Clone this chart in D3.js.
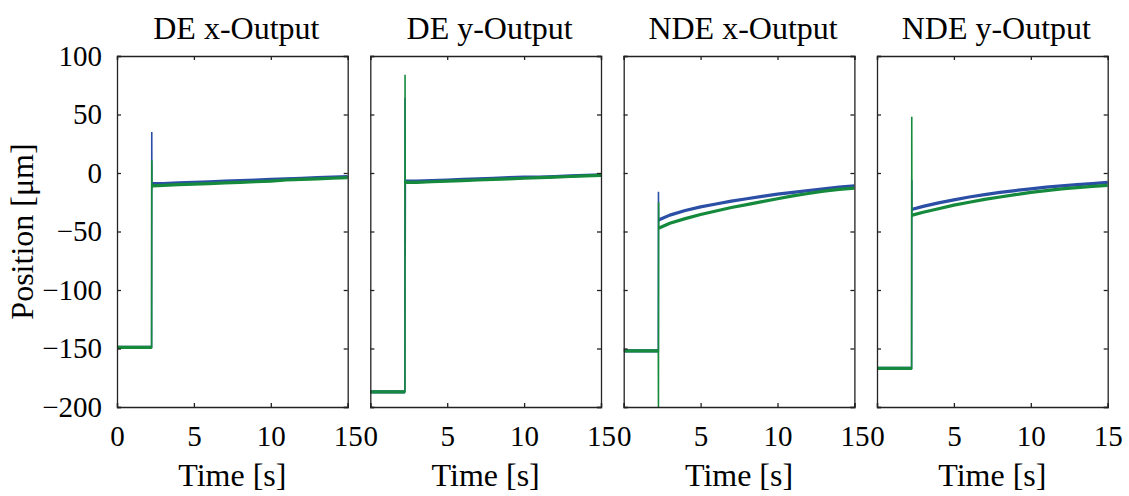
<!DOCTYPE html>
<html>
<head>
<meta charset="utf-8">
<script src="https://cdn.jsdelivr.net/npm/d3@7"></script>
<style>
  html, body { margin: 0; padding: 0; background: #fff; }
  svg { display: block; }
</style>
</head>
<body>
<svg id="chart" width="1129" height="496"></svg>
<script>
// ---------------- data ----------------
const panelTitles = ["DE x-Output", "DE y-Output", "NDE x-Output", "NDE y-Output"];
const xTicks = [0, 5, 10, 15];
const yTicks = [-200, -150, -100, -50, 0, 50, 100];
const times = [0, 2.25, 2.26, 2.27, 2.28, 2.3, 3, 4, 5, 6, 7, 8, 9, 10, 11, 12, 13, 14, 15];

const deXBlue  = [-149, -149, 35, -12, -9, -9, -9, -8.5, -8, -7.5, -7, -6.5, -6, -5.5, -5, -4.5, -4, -3.5, -3];
const deXGreen = [-149, -149, 11, -14, -11, -11, -10.5, -10, -9.5, -9, -8.5, -8, -7.5, -7, -6, -5.5, -5, -4.5, -4];
const deYBlue  = [-187, -187, 64, -72, -8, -7, -7, -6.5, -6, -5.5, -5, -4.5, -4, -3.5, -3.5, -3, -2.5, -2, -1.5];
const deYGreen = [-187, -187, 84, -10, -9, -8, -8, -7.5, -7, -6.5, -6, -5.5, -5, -4.5, -4, -3.5, -3, -2.5, -2];
const ndeXBlue  = [-152, -152, -16, -42, -40, -40, -36, -32, -29, -26.5, -24, -22, -20, -18, -16.5, -15, -13.5, -12, -11];
const ndeXGreen = [-152, -152, -200, -25, -47, -47, -43, -39, -35.5, -32.5, -29.5, -27, -24.5, -22, -19.5, -17.5, -15.5, -14, -13];
const ndeYBlue  = [-167, -167, -6, -33, -31, -31, -28.5, -25.5, -23, -20.5, -18.5, -16.5, -15, -13.5, -12, -11, -10, -9, -8];
const ndeYGreen = [-167, -167, 48, -38, -36, -36, -33.5, -30.5, -27.5, -25, -22.5, -20.5, -18.5, -16.5, -15, -13.5, -12.5, -11.5, -10.5];

const panelSeries = [
  [deXBlue, deXGreen],
  [deYBlue, deYGreen],
  [ndeXBlue, ndeXGreen],
  [ndeYBlue, ndeYGreen]
];
const seriesColors = ["#2c4fa6", "#158a3d"];

const xLabel = "Time [s]";
const yLabel = "Position [μm]";

// ---------------- layout ----------------
const FONT = "'Liberation Serif', 'Times New Roman', Times, 'DejaVu Serif', serif";
const svg = d3.select("#chart");
const panelLeft = [117, 370.3, 623.7, 877];
const panelW = 230.7;
const plotTop = 56, plotBottom = 407;
const tickLen = 4;

const y = d3.scaleLinear().domain([-200, 100]).range([plotBottom, plotTop]);

panelTitles.forEach((title, i) => {
  const x0 = panelLeft[i];
  const x = d3.scaleLinear().domain([0, 15]).range([x0, x0 + panelW]);
  const g = svg.append("g");

  const clipId = "clip" + i;
  svg.append("clipPath").attr("id", clipId)
    .append("rect").attr("x", x0).attr("y", plotTop - 1).attr("width", panelW).attr("height", plotBottom - plotTop + 2);

  const line = d3.line().x(d => x(times[d])).y(d => y(d.v));
  panelSeries[i].forEach((vals, s) => {
    const idx = vals.map((v, k) => k);
    const lineK = d3.line().x(k => x(times[k])).y(k => y(vals[k]));
    // whole trace, thin (captures the vertical step/spikes)
    g.append("path")
      .attr("d", lineK(idx))
      .attr("fill", "none")
      .attr("stroke", seriesColors[s])
      .attr("stroke-width", 1.6)
      .attr("clip-path", `url(#${clipId})`);
    // steady parts, thicker (noisy band)
    [idx.slice(0, 2), idx.slice(4)].forEach(part => {
      g.append("path")
        .attr("d", lineK(part))
        .attr("fill", "none")
        .attr("stroke", seriesColors[s])
        .attr("stroke-width", 3.2)
        .attr("stroke-linejoin", "round")
        .attr("clip-path", `url(#${clipId})`);
    });
  });

  const axB = d3.axisBottom(x).tickValues(xTicks).tickSize(-tickLen).tickPadding(tickLen + 14).tickFormat(d3.format("d"));
  const axT = d3.axisTop(x).tickValues(xTicks).tickSize(-tickLen).tickFormat("");
  const axL = d3.axisLeft(y).tickValues(yTicks).tickSize(-tickLen).tickPadding(tickLen + 11).tickFormat(i === 0 ? d3.format("d") : "");
  const axR = d3.axisRight(y).tickValues(yTicks).tickSize(-tickLen).tickFormat("");

  const styleAxis = sel => {
    sel.attr("font-family", FONT).attr("font-size", 29);
    sel.select(".domain").attr("stroke", "#222").attr("stroke-width", 1.3);
    sel.selectAll(".tick line").attr("stroke", "#222").attr("stroke-width", 1.3);
    sel.selectAll(".tick text").style("font-family", FONT).attr("font-size", 29).attr("fill", "#000");
  };

  const gb = g.append("g").attr("transform", `translate(0,${plotBottom})`).call(axB).call(styleAxis);
  gb.selectAll(".tick text").attr("dy", "0.71em");
  g.append("g").attr("transform", `translate(0,${plotTop})`).call(axT).call(styleAxis);
  g.append("g").attr("transform", `translate(${x0},0)`).call(axL).call(styleAxis);
  g.append("g").attr("transform", `translate(${x0 + panelW},0)`).call(axR).call(styleAxis);

  svg.append("text")
    .attr("x", x0 + panelW / 2 + 4)
    .attr("y", 39)
    .attr("text-anchor", "middle")
    .style("font-family", FONT)
    .attr("font-size", 32)
    .text(title);

  svg.append("text")
    .attr("x", x0 + panelW / 2)
    .attr("y", 486)
    .attr("text-anchor", "middle")
    .style("font-family", FONT)
    .attr("font-size", 32)
    .text(xLabel);
});

svg.append("text")
  .attr("transform", `translate(33,${(plotTop + plotBottom) / 2}) rotate(-90)`)
  .attr("text-anchor", "middle")
  .style("font-family", FONT)
  .attr("font-size", 32)
  .text(yLabel);
</script>
</body>
</html>
